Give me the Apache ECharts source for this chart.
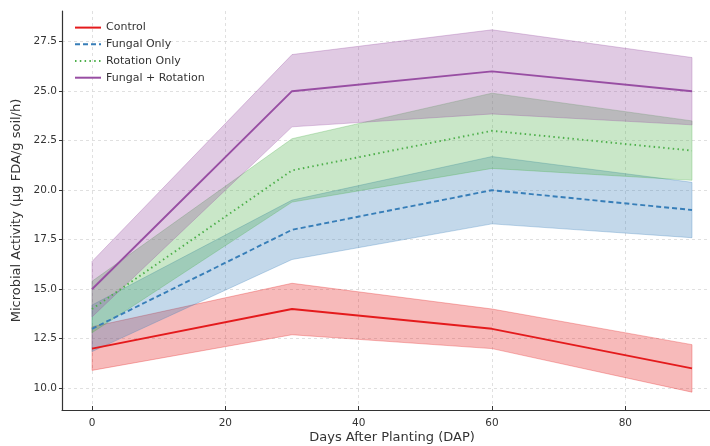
<!DOCTYPE html>
<html>
<head>
<meta charset="utf-8">
<script src="https://cdn.jsdelivr.net/npm/echarts@6/dist/echarts.min.js"></script>
<style>
  html, body { margin: 0; padding: 0; background: #fff; }
  #chart { width: 710px; height: 446px; }
</style>
</head>
<body>
<div id="chart"></div>
<script>
const days = [0, 30, 60, 90]
const xTicks = [0, 20, 40, 60, 80]
const yTicks = [10, 12.5, 15, 17.5, 20, 22.5, 25, 27.5]

const controlMean = [12, 14, 13, 11]
const controlLow = [10.9, 12.7, 12.0, 9.8]
const controlHigh = [13.1, 15.3, 14.0, 12.2]

const fungalMean = [13, 18, 20, 19]
const fungalLow = [11.85, 16.5, 18.3, 17.6]
const fungalHigh = [14.2, 19.5, 21.7, 20.4]

const rotationMean = [14, 21, 23, 22]
const rotationLow = [12.8, 19.4, 21.1, 20.5]
const rotationHigh = [15.4, 22.6, 24.9, 23.5]

const comboMean = [15, 25, 26, 25]
const comboLow = [13.6, 23.2, 23.85, 23.3]
const comboHigh = [16.4, 26.85, 28.1, 26.7]

const groups = [
  { name: 'Control', color: '#e41a1c', dash: 'solid', mean: controlMean, low: controlLow, high: controlHigh },
  { name: 'Fungal Only', color: '#377eb8', dash: [5, 3], mean: fungalMean, low: fungalLow, high: fungalHigh },
  { name: 'Rotation Only', color: '#4daf4a', dash: [1.5, 3.3], mean: rotationMean, low: rotationLow, high: rotationHigh },
  { name: 'Fungal + Rotation', color: '#984ea3', dash: 'solid', mean: comboMean, low: comboLow, high: comboHigh }
]

const hexToRgba = (hex, a) => {
  const n = parseInt(hex.slice(1), 16)
  return `rgba(${(n >> 16) & 255},${(n >> 8) & 255},${n & 255},${a})`
}

// band polygon drawn once, from the first data item
const bandSeries = g => ({
  name: g.name,
  type: 'custom',
  silent: true,
  z: 1,
  data: days.map((d, i) => [d, g.low[i], g.high[i]]),
  renderItem: (params, api) => {
    if (params.dataIndex !== 0) return
    const pts = []
    days.forEach((d, i) => pts.push(api.coord([d, g.high[i]])))
    for (let i = days.length - 1; i >= 0; i--) pts.push(api.coord([days[i], g.low[i]]))
    return {
      type: 'polygon',
      shape: { points: pts },
      style: {
        fill: hexToRgba(g.color, 0.3),
        stroke: hexToRgba(g.color, 0.3),
        lineWidth: 1
      }
    }
  }
})

const lineSeries = g => ({
  name: g.name,
  type: 'line',
  z: 3,
  symbol: 'none',
  data: days.map((d, i) => [d, g.mean[i]]),
  itemStyle: { color: g.color },
  lineStyle: { color: g.color, width: 1.9, type: g.dash }
})

const series = []
groups.forEach(g => {
  series.push(lineSeries(g))
  series.push(bandSeries(g))
})

const myChart = echarts.init(document.getElementById('chart'), null, { renderer: 'canvas' })

const gridLine = { show: true, lineStyle: { color: '#d9d9d9', type: [3, 3], width: 0.8 } }

myChart.setOption({
  animation: false,
  backgroundColor: '#fff',
  textStyle: { fontFamily: 'DejaVu Sans' },
  grid: { left: 62, right: -12, top: 11, bottom: 36, outerBoundsMode: 'none', containLabel: false },
  legend: {
    data: groups.map(g => g.name),
    orient: 'vertical',
    left: 69,
    top: 17,
    itemWidth: 26,
    itemHeight: 14,
    itemGap: 5.5,
    itemStyle: { opacity: 0 },
    textStyle: { fontSize: 11, color: '#333', fontFamily: 'DejaVu Sans' }
  },
  xAxis: {
    type: 'value',
    min: -4.5,
    max: 94.5,
    name: 'Days After Planting (DAP)',
    nameLocation: 'middle',
    nameGap: 28,
    nameMoveOverlap: false,
    nameTextStyle: { fontSize: 13, color: '#333', verticalAlign: 'middle' },
    axisLine: { show: true, onZero: false, lineStyle: { color: '#333', width: 1.2 } },
    axisTick: { show: true, inside: true, length: 4, customValues: xTicks, lineStyle: { color: '#333' } },
    axisLabel: { fontSize: 10.5, color: '#333', margin: 8, customValues: xTicks },
    splitLine: gridLine
  },
  yAxis: {
    type: 'value',
    min: 8.9,
    max: 29.05,
    name: 'Microbial Activity (μg FDA/g soil/h)',
    nameLocation: 'middle',
    nameGap: 34,
    nameTextStyle: { fontSize: 13, color: '#333' },
    axisLine: { show: true, onZero: false, lineStyle: { color: '#333', width: 1.2 } },
    axisTick: { show: true, length: 3, customValues: yTicks, lineStyle: { color: '#333' } },
    axisLabel: {
      fontSize: 10.5, color: '#333', margin: 5, customValues: yTicks,
      formatter: v => v.toFixed(1)
    },
    splitLine: gridLine
  },
  series
})
</script>
</body>
</html>
